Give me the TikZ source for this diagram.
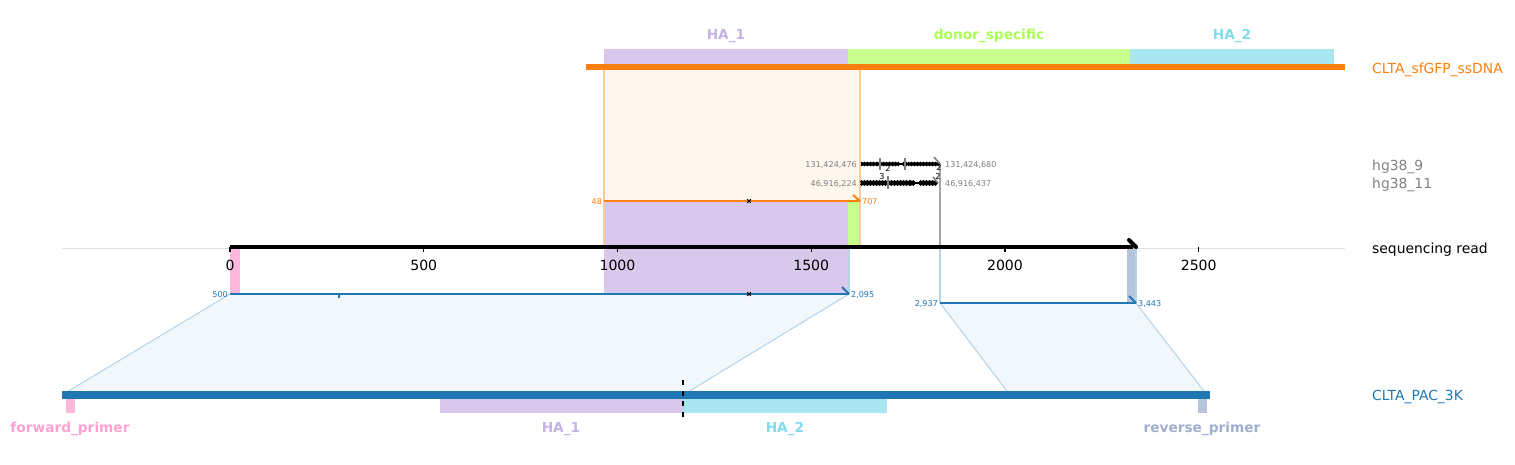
\documentclass[tikz,border=0pt]{standalone}
\usepackage{fontspec}
\setmainfont{DejaVu Sans}

\definecolor{tabblue}{HTML}{1F77B4}
\definecolor{taborange}{HTML}{FF7F0E}
\definecolor{haone}{HTML}{D8C8EB}
\definecolor{haonetext}{HTML}{C5B3E6}
\definecolor{donor}{HTML}{C8FF8C}
\definecolor{donortext}{HTML}{AAFF55}
\definecolor{hatwo}{HTML}{AAE6F0}
\definecolor{hatwotext}{HTML}{80DCEA}
\definecolor{fwd}{HTML}{FFB8DC}
\definecolor{fwdtext}{HTML}{FFA0D2}
\definecolor{rev}{HTML}{B8C4DC}
\definecolor{revtext}{HTML}{A0AED0}
\definecolor{edgeblue}{HTML}{B4D4EA}
\definecolor{fillblue}{HTML}{F2F7FB}
\definecolor{fillorange}{HTML}{FFF6EE}
\definecolor{edgeorange}{HTML}{FFCC99}
\definecolor{refgray}{HTML}{808080}

\tikzset{
  trackname/.style={font=\fontsize{7.9}{9}\selectfont, anchor=west},
  featname/.style={font=\bfseries\fontsize{7.8}{9}\selectfont},
  endnum/.style={font=\fontsize{4.6}{5}\selectfont, inner sep=1pt},
  ticknum/.style={font=\fontsize{8}{9}\selectfont, below=1pt},
  aln/.style={line width=1.1pt},
  hook/.style={line width=1.1pt},
}
\newcommand{\mism}[2][0.6pt]{\draw[line width=#1] (#2) ++(-1.8,-1.8) -- ++(3.6,3.6) ++(0,-3.6) -- ++(-3.6,3.6);}

\begin{document}
\begin{tikzpicture}[x=0.02cm,y=-0.02cm]
      \useasboundingbox (0,0) rectangle (1515,464);
      % end points of the alignments
      \coordinate (o1) at (604,201); \coordinate (o2) at (860,201);
      \coordinate (b1) at (230,294); \coordinate (b2) at (849,294);
      \coordinate (c1) at (940,303); \coordinate (c2) at (1136,303);
      \coordinate (p1) at (62,395);  \coordinate (p2) at (683,395);
      \coordinate (p3) at (1010,395); \coordinate (p4) at (1207,395);
      \coordinate (r0) at (230,247); \coordinate (r1) at (1136,247);
      % shaded projections
      \fill[fillorange] (604,67) rectangle (o2);
      \fill[haone] (o1) rectangle (848,294);
      \fill[donor] (848,201) rectangle (860,247);
      \fill[fwd] (r0) rectangle (240,294);
      \fill[rev] (1127,247) rectangle (c2);
      \fill[fillblue] (b1) -- (b2) -- (p2) -- (p1) -- cycle;
      \fill[fillblue] (c1) -- (c2) -- (p4) -- (p3) -- cycle;
      \draw[edgeblue, line width=0.6pt] (b1) -- (p1) (b2) -- (p2) (c1) -- (p3) (c2) -- (p4);
      \draw[edgeblue, line width=0.6pt] (849,247) -- (b2) (940,247) -- (c1) (1136,247) -- (c2);
      \draw[edgeorange, line width=0.6pt] (604,67) -- (604,247) (860,67) -- (860,247);
      \draw[black!12, line width=0.5pt] (62,248) -- (1345,248);
      % donor
      \fill[haone] (604,49) rectangle (848,64);
      \fill[donor] (848,49) rectangle (1130,64);
      \fill[hatwo] (1130,49) rectangle (1334,64);
      \node[featname, haonetext] (dha1) at (726,36) {HA\_1};
      \node[featname, donortext] (dspec) at (989,36) {donor\_specific};
      \node[featname, hatwotext] (dha2) at (1232,36) {HA\_2};
      \draw[taborange, line width=3.4pt] (586,67) -- (1345,67);
      % hg38 hits
      \draw[refgray!70, line width=0.8pt] (940,164) -- (940,247);
      \draw[line width=0.9pt] (861,164) -- (940,164) (861,183) -- (938,183);
      \foreach \x in {863,866,...,876,879,882,...,897,905,910,913,...,928,931,934,937}
        \mism[0.9pt]{\x,164}
      \foreach \x in {863,866,...,878,881,884,...,890,893,896,...,908,912,922,925,...,934}
        \mism[0.9pt]{\x,183}
      \draw[refgray, line width=0.9pt] (880,158) -- (880,170) (905,158) -- (905,170) (888,176) -- (888,189);
      \draw[refgray, line width=0.9pt] (934,157) -- (940,164) (933,177) -- (938,183);
      \node[endnum] (n1) at (888,168) {2};
      \node[endnum] (n2) at (882,177) {3};
      \node[endnum] (n3) at (939,167) {2};
      \node[endnum] (n4) at (938,176) {2};
      \node[endnum, refgray, anchor=east] (h9s) at (859,165) {131,424,476};
      \node[endnum, refgray, anchor=west] (h9e) at (943,165) {131,424,680};
      \node[endnum, refgray, anchor=east] (h11s) at (859,184) {46,916,224};
      \node[endnum, refgray, anchor=west] (h11e) at (943,184) {46,916,437};
      % alignment to the donor
      \draw[taborange, aln] (o1) -- (o2);
      \draw[taborange, hook] (853,195) -- (o2);
      \mism{749,201}
      \node[endnum, taborange, anchor=east] (os) at (604,202) {48};
      \node[endnum, taborange, anchor=west] (oe) at (860,202) {707};
      % read axis
      \draw[line width=2.3pt] (r0) -- (1133,247);
      \draw[line width=2.3pt, line cap=round] (1129,240) -- (r1);
      \foreach \t in {0,500,...,2500}
        \draw[line width=0.6pt] ({230+0.3875*\t},247) -- ++(0,5) node[ticknum] (t\t) {\t};
      % alignments to the plasmid
      \draw[tabblue, aln] (b1) -- (b2);
      \draw[tabblue, hook] (842,287) -- (b2);
      \draw[tabblue, line width=1.2pt] (339,294) -- (339,298);
      \mism{749,294}
      \node[endnum, tabblue, anchor=east] (bs) at (230,295) {500};
      \node[endnum, tabblue, anchor=west] (be) at (849,295) {2,095};
      \draw[tabblue, aln] (c1) -- (c2);
      \draw[tabblue, hook] (1129,296) -- (c2);
      \node[endnum, tabblue, anchor=east] (cs) at (940,304) {2,937};
      \node[endnum, tabblue, anchor=west] (ce) at (1136,304) {3,443};
      % plasmid
      \draw[tabblue, line width=4pt] (62,395) -- (1210,395);
      \fill[fwd] (66,399) rectangle (75,413);
      \fill[haone] (440,399) rectangle (683,413);
      \fill[hatwo] (683,399) rectangle (887,413);
      \fill[rev] (1198,399) rectangle (1207,413);
      \draw[dashed, line width=0.6pt] (683,380) -- (683,418);
      \node[featname, fwdtext] (pfwd) at (70,429) {forward\_primer};
      \node[featname, haonetext] (pha1) at (561,429) {HA\_1};
      \node[featname, hatwotext] (pha2) at (785,429) {HA\_2};
      \node[featname, revtext] (prev) at (1202,429) {reverse\_primer};
      % track names
      \node[trackname, taborange] (tssdna) at (1366,69.5) {CLTA\_sfGFP\_ssDNA};
      \node[trackname, refgray] (thg9) at (1366,166.5) {hg38\_9};
      \node[trackname, refgray] (thg11) at (1366,184.5) {hg38\_11};
      \node[trackname] (tread) at (1366,249.5) {sequencing read};
      \node[trackname, tabblue] (tpac) at (1366,396.5) {CLTA\_PAC\_3K};
\end{tikzpicture}
\end{document}
